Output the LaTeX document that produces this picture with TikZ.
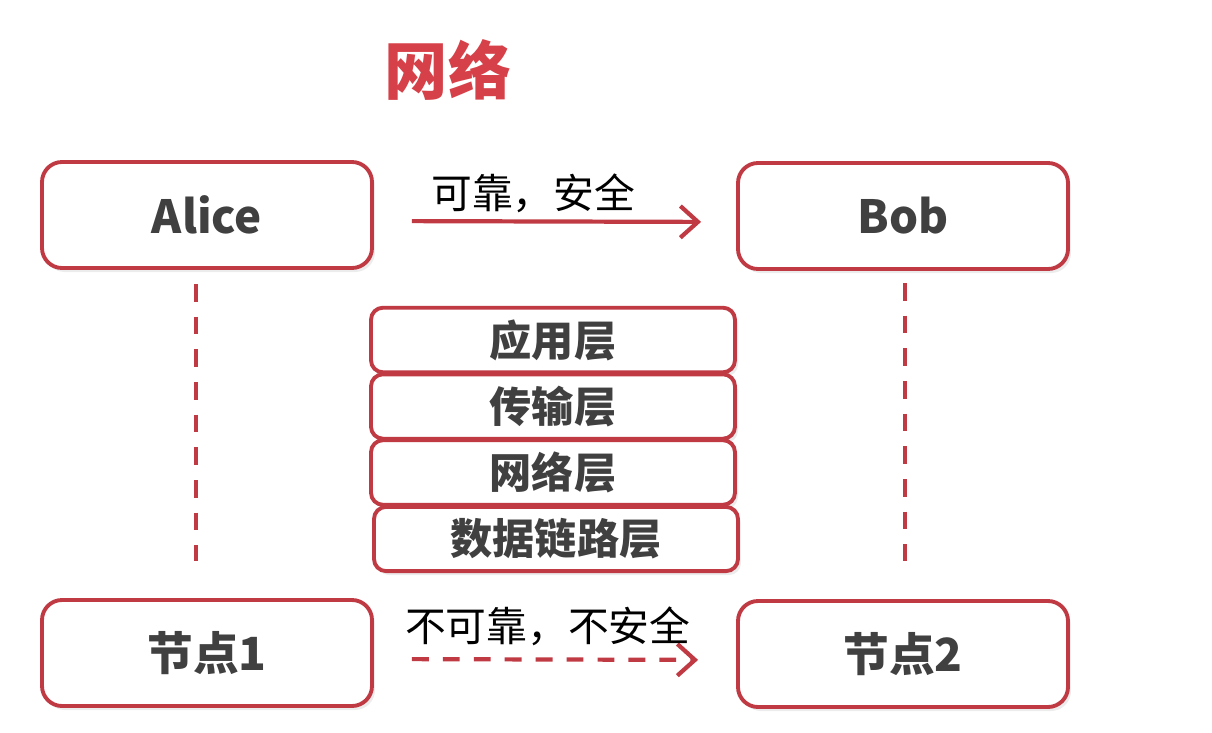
\documentclass[tikz,border=0pt]{standalone}
\usepackage{fontspec}
\setmainfont{Noto Sans CJK SC}
\usepackage{tikz}
\usetikzlibrary{arrows.meta}
\usetikzlibrary{shadows}
\definecolor{bordre}{RGB}{192,58,68}
\definecolor{titre}{RGB}{214,64,72}
\definecolor{texte}{RGB}{64,64,64}

\begin{document}
\begin{tikzpicture}[x=1cm,y=-1cm,
    boite/.style={draw=bordre, line width=1.1pt, rounded corners=0.2cm, fill=white,
        minimum width=3.30cm, minimum height=1.06cm, font=\fontsize{13}{15}\selectfont\bfseries, text=texte,
        drop shadow={shadow xshift=0.03cm, shadow yshift=-0.04cm, opacity=0.15}},
    couche/.style={boite, rounded corners=0.12cm, minimum width=3.64cm, minimum height=0.63cm,
        font=\fontsize{12}{14}\selectfont\bfseries},
    fleche/.style={bordre, line width=1.2pt, -{Straight Barb[length=5pt,width=9pt,line width=1.2pt]}},
    etiquette/.style={text=black, font=\fontsize{11.6}{13}\selectfont},
    pointille/.style={bordre, line width=1.2pt, dash pattern=on 5pt off 4.3pt}]
\useasboundingbox (0,0) rectangle (12.12,7.33);
% titre
\node[text=titre, font=\fontsize{18}{20}\selectfont\bfseries] (titre) at (4.48,0.70) {网络};
% les quatre boites
\node[boite] (alice) at (2.07,2.15) {Alice};
\node[boite] (bob) at (9.03,2.16) {Bob};
\node[boite] (noeud1) at (2.07,6.53) {节点1};
\node[boite] (noeud2) at (9.03,6.54) {节点2};
% la pile de couches
\node[couche] (appli) at (5.53,3.40) {应用层};
\node[couche] (transport) at (5.53,4.065) {传输层};
\node[couche] (reseau) at (5.53,4.725) {网络层};
\node[couche] (liaison) at (5.56,5.39) {数据链路层};
% fleches
\draw[fleche, shorten <=0.38cm, shorten >=0.35cm] ([yshift=-0.06cm]alice.east) -- ([yshift=-0.06cm]bob.west)
    node[etiquette, pos=0.44, above=-1.5pt] {可靠，安全};
\draw[fleche, dash pattern=on 4.8pt off 4pt, shorten <=0.38cm, shorten >=0.38cm] ([yshift=-0.06cm]noeud1.east) -- ([yshift=-0.06cm]noeud2.west)
    node[etiquette, pos=0.48, above=0pt] {不可靠，不安全};
\draw[pointille, shorten <=0.14cm, shorten >=0.37cm] ([xshift=-0.11cm]alice.south) -- ([xshift=-0.11cm]noeud1.north);
\draw[pointille, shorten <=0.12cm, shorten >=0.38cm] ([xshift=0.02cm]bob.south) -- ([xshift=0.02cm]noeud2.north);
\end{tikzpicture}
\end{document}
